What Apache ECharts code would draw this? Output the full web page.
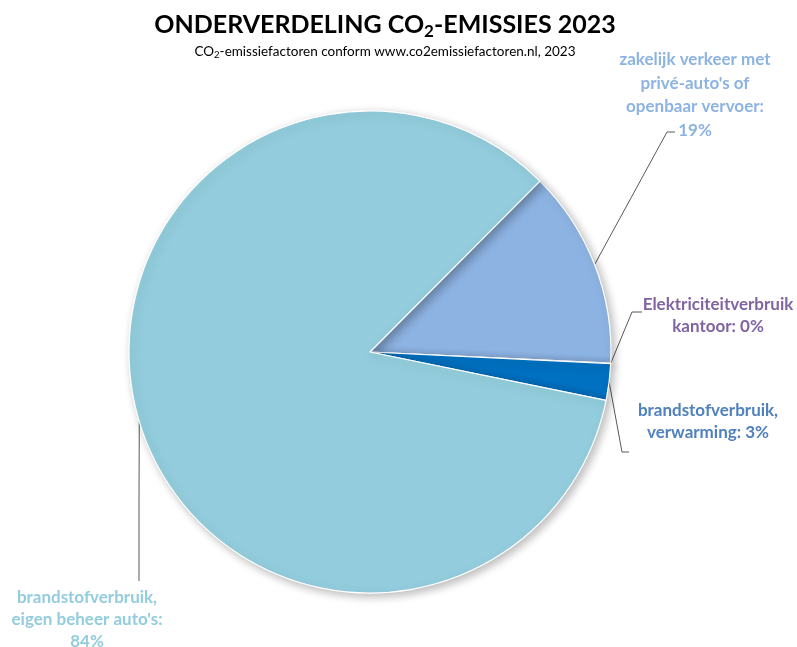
<!DOCTYPE html>
<html><head><meta charset="utf-8">
<script src="https://cdn.jsdelivr.net/npm/echarts@6/dist/echarts.min.js"></script>
<style>html,body{margin:0;padding:0;background:#fff}#c{width:797px;height:647px}</style>
</head><body><div id="c"></div>
<script>
// Data (clockwise from the top-right boundary)
var categories = [
  "zakelijk verkeer met\nprivé-auto's of\nopenbaar vervoer:",
  "Elektriciteitverbruik\nkantoor:",
  "brandstofverbruik,\nverwarming:",
  "brandstofverbruik,\neigen beheer auto's:"
];
var values = [13.28, 0.03, 2.45, 84.24];
var labelPct = [19, 0, 3, 84];
var sliceColors = ['#8DB3E2', '#8064A2', '#0070C0', '#93CDDD'];
var labelColors = ['#8DB3E2', '#8064A2', '#4F81BD', '#93CDDD'];

// label placement (layout only)
var labelPos = [
  {x: 695, y: 48, lh: 23.5, nl: true, mid: [667, 132], end: [675, 132]},
  {x: 718, y: 294, lh: 22, nl: false, mid: [632, 312], end: [642, 312]},
  {x: 708, y: 399, lh: 22.5, nl: false, mid: [622, 452], end: [629, 452]},
  {x: 87, y: 587, lh: 22, nl: true, mid: [139, 500], end: [139, 581]}
];

var FONT = 'Lato, "Open Sans", sans-serif';
var chart = echarts.init(document.getElementById('c'), null, {renderer: 'canvas'});
var data = categories.map(function (c, i) {
  return {
    name: c, value: values[i],
    itemStyle: {color: sliceColors[i]},
    label: {color: labelColors[i], lineHeight: labelPos[i].lh}
  };
});
chart.setOption({
  animation: false,
  title: [{
    text: 'ONDERVERDELING CO{s|2}-EMISSIES 2023',
    left: 380, top: 4, textAlign: 'center',
    textStyle: {
      fontFamily: FONT, fontWeight: 'bold', fontSize: 25, color: '#000', lineHeight: 31,
      rich: {s: {fontFamily: FONT, fontWeight: 'bold', fontSize: 17, color: '#000', verticalAlign: 'bottom', lineHeight: 31, padding: [11, 0, 0, 0]}}
    }
  }, {
    text: 'CO{s|2}-emissiefactoren conform www.co2emissiefactoren.nl, 2023',
    left: 380, top: 38, textAlign: 'center',
    textStyle: {
      fontFamily: FONT, fontWeight: 'normal', fontSize: 13.5, color: '#000', lineHeight: 17,
      rich: {s: {fontFamily: FONT, fontWeight: 'normal', fontSize: 9.5, color: '#000', verticalAlign: 'bottom', lineHeight: 17, padding: [6, 0, 0, 0]}}
    }
  }],
  series: [{
    type: 'pie',
    center: [370, 352],
    radius: 241,
    startAngle: 45.17,
    clockwise: true,
    minAngle: 0,
    avoidLabelOverlap: false,
    data: data,
    itemStyle: {borderColor: '#fff', borderWidth: 1.2, shadowBlur: 10, shadowColor: 'rgba(0,0,0,0.28)', shadowOffsetX: 3, shadowOffsetY: 3},
    label: {
      show: true, position: 'outside',
      fontFamily: FONT, fontWeight: 'bold', fontSize: 17, lineHeight: 22,
      formatter: function (p) { return p.name + (labelPos[p.dataIndex].nl ? '\n' : ' ') + labelPct[p.dataIndex] + '%'; }
    },
    labelLine: {show: true, lineStyle: {color: '#595959', width: 1}, length: 10, length2: 10},
    labelLayout: function (p) {
      var lp = labelPos[p.dataIndex];
      var start = p.labelLinePoints ? p.labelLinePoints[0] : lp.mid;
      return {
        x: lp.x, y: lp.y, align: 'center', verticalAlign: 'top',
        labelLinePoints: [start, lp.mid, lp.end]
      };
    },
    emphasis: {disabled: true}
  }]
});
</script></body></html>
